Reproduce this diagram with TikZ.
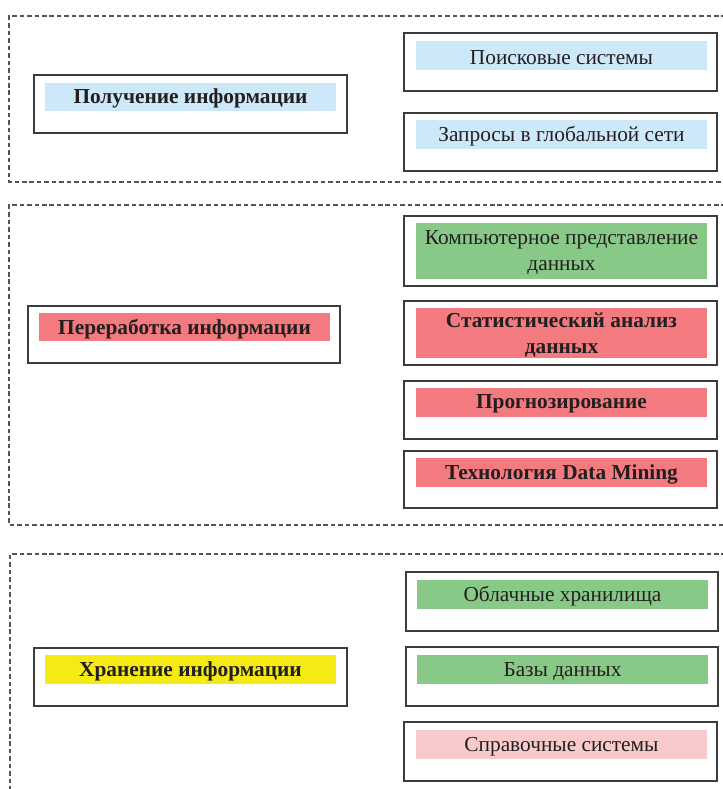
\documentclass[tikz,border=0pt]{standalone}
\usepackage{fontspec}
\setmainfont{Liberation Serif}
\usetikzlibrary{fit}
\definecolor{inkdark}{HTML}{231F20}
\definecolor{lineg}{HTML}{3C3C3C}
\definecolor{dashg}{HTML}{555555}
\definecolor{infoblue}{HTML}{CDE9F9}
\definecolor{infogreen}{HTML}{88C987}
\definecolor{infored}{HTML}{F37B80}
\definecolor{infoyellow}{HTML}{F5EA14}
\definecolor{infopink}{HTML}{F9CACB}
\tikzset{
  groupline/.style = {draw=dashg, line width=0.8pt, dash pattern=on 3.4pt off 2.2pt},
  outbox/.style    = {draw=lineg, line width=1pt, inner sep=0pt},
  band/.style      = {inner sep=0pt},
  txt/.style       = {inner sep=0pt, yshift=-1.3pt, text=inkdark, align=center,
                      font=\fontsize{16}{19.5}\selectfont},
  txtb/.style      = {txt, font=\fontsize{16}{19.5}\selectfont\bfseries}
}

\begin{document}
\begin{tikzpicture}[x=0.75pt, y=-0.75pt]
    \useasboundingbox (0,0) rectangle (723,789);
    % dashed groups
    \draw[groupline] (726,16) -| (9,182) -- (726,182);
    \draw[groupline] (726,205) -| (9,525) -- (726,525);
    \draw[groupline] (726,554) -| (10,795);
    % getting information
    \node[outbox, fit={(34,75) (347,133)}] (get) {};
    \node[band, fill=infoblue, fit={(45,83) (336,111)}] (get-b) {};
    \node[txtb] (get-t) at (get-b) {Получение информации};
    \node[outbox, fit={(404,33) (717,91)}] (search) {};
    \node[band, fill=infoblue, fit={(416,41) (707,70)}] (search-b) {};
    \node[txt] (search-t) at (search-b) {Поисковые системы};
    \node[outbox, fit={(404,113) (717,171)}] (query) {};
    \node[band, fill=infoblue, fit={(416,120) (707,149)}] (query-b) {};
    \node[txt] (query-t) at (query-b) {Запросы в глобальной сети};
    % processing information
    \node[outbox, fit={(28,306) (340,363)}] (proc) {};
    \node[band, fill=infored, fit={(39,313) (330,341)}] (proc-b) {};
    \node[txtb] (proc-t) at (proc-b) {Переработка информации};
    \node[outbox, fit={(404,216) (717,286)}] (repr) {};
    \node[band, fill=infogreen, fit={(416,223) (707,279)}] (repr-b) {};
    \node[txt] (repr-t) at (repr-b) {Компьютерное представление\\данных};
    \node[outbox, fit={(404,301) (717,365)}] (stat) {};
    \node[band, fill=infored, fit={(416,308) (707,358)}] (stat-b) {};
    \node[txtb] (stat-t) at (stat-b) {Статистический анализ\\данных};
    \node[outbox, fit={(404,381) (717,439)}] (forecast) {};
    \node[band, fill=infored, fit={(416,388) (707,417)}] (forecast-b) {};
    \node[txtb] (forecast-t) at (forecast-b) {Прогнозирование};
    \node[outbox, fit={(404,451) (717,508)}] (mining) {};
    \node[band, fill=infored, fit={(416,458) (707,487)}] (mining-b) {};
    \node[txtb] (mining-t) at (mining-b) {Технология Data Mining};
    % storing information
    \node[outbox, fit={(34,648) (347,706)}] (store) {};
    \node[band, fill=infoyellow, fit={(45,655) (336,684)}] (store-b) {};
    \node[txtb] (store-t) at (store-b) {Хранение информации};
    \node[outbox, fit={(406,572) (718,631)}] (cloud) {};
    \node[band, fill=infogreen, fit={(417,580) (708,609)}] (cloud-b) {};
    \node[txt] (cloud-t) at (cloud-b) {Облачные хранилища};
    \node[outbox, fit={(406,647) (718,706)}] (db) {};
    \node[band, fill=infogreen, fit={(417,655) (708,684)}] (db-b) {};
    \node[txt] (db-t) at (db-b) {Базы данных};
    \node[outbox, fit={(404,722) (717,781)}] (ref) {};
    \node[band, fill=infopink, fit={(416,730) (707,759)}] (ref-b) {};
    \node[txt] (ref-t) at (ref-b) {Справочные системы};
\end{tikzpicture}
\end{document}
